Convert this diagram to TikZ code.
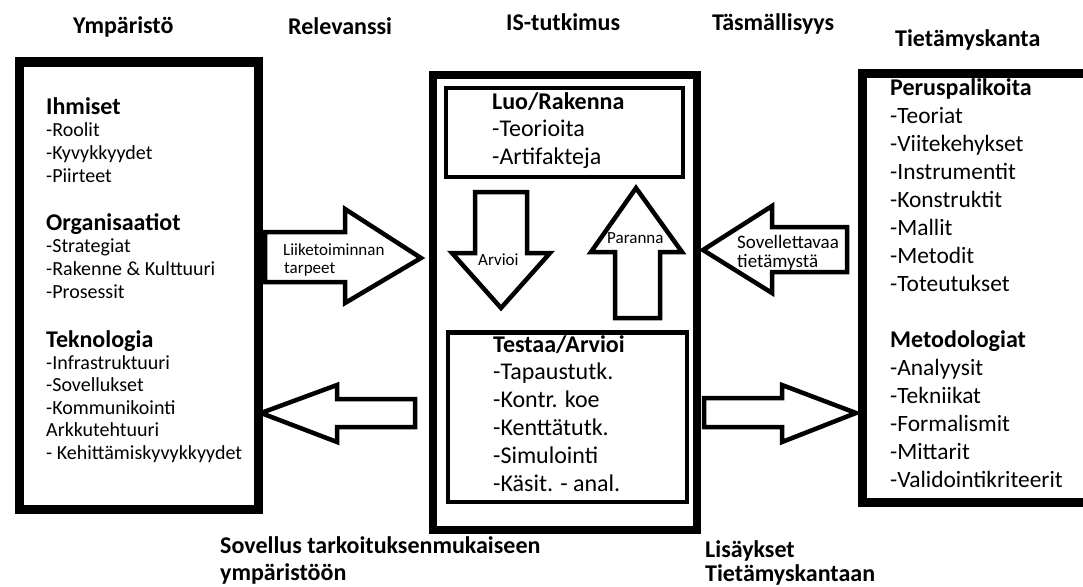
\documentclass[tikz,border=0pt]{standalone}
\usepackage{fontspec}
\setmainfont{Carlito}
\begin{document}
\begin{tikzpicture}[x=1pt,y=-1pt,
  heavybox/.style={draw=black, line width=9pt, fill=none, inner sep=0pt, anchor=north west},
  midbox/.style={draw=black, line width=8pt, inner sep=0pt, anchor=north west},
  subbox/.style={draw=black, line width=4.5pt, inner sep=0pt, anchor=north west},
  blockarrow/.style={draw=black, line width=4.5pt, line join=miter, fill=white},
  txt/.style={inner sep=0pt, anchor=base west, text=black},
  hd/.style={txt, font=\fontsize{24}{28}\selectfont\bfseries},
  itemL/.style={txt, font=\fontsize{20}{23}\selectfont},
  itemC/.style={txt, font=\fontsize{24}{28}\selectfont},
  itemR/.style={txt, font=\fontsize{23.4}{28}\selectfont},
  arrlabel/.style={txt, font=\fontsize{17}{18}\selectfont},
]
\useasboundingbox (0,0) rectangle (1083,586);

% column headings
\node[hd] (t-ymp) at (73,34) {Ympäristö};
\node[hd] (t-rel) at (288,35) {Relevanssi};
\node[hd] (t-is)  at (506,31) {IS-tutkimus};
\node[hd] (t-tas) at (712,31) {Täsmällisyys};
\node[hd] (t-tie) at (895,47) {Tietämyskanta};

% environment box
\node[heavybox, minimum width=239pt, minimum height=447.5pt] (env) at (14.5,57.5) {};
\node[hd] (ihm) at (46,114) {Ihmiset};
\foreach \txt [count=\i] in {-Roolit,-Kyvykkyydet,-Piirteet}
  \node[itemL] (ihm-\i) at (46,{114+22.7*\i}) {\txt};
\node[hd] (org) at (46,230) {Organisaatiot};
\foreach \txt [count=\i] in {-Strategiat,-Rakenne \& Kulttuuri,-Prosessit}
  \node[itemL] (org-\i) at (46,{230+22.7*\i}) {\txt};
\node[hd] (tek) at (46,347) {Teknologia};
\foreach \txt [count=\i] in {-Infrastruktuuri,-Sovellukset,-Kommunikointi,Arkkutehtuuri,- Kehittämiskyvykkyydet}
  \node[itemL] (tek-\i) at (46,{347+22.4*\i}) {\txt};

% IS research box
\node[midbox, minimum width=264pt, minimum height=455pt] (is) at (429,71) {};
\node[subbox, minimum width=237pt, minimum height=89pt] (build) at (443.5,85.5) {};
\node[hd] (luo) at (492,109) {Luo/Rakenna};
\foreach \txt [count=\i] in {-Teorioita,-Artifakteja}
  \node[itemC] (luo-\i) at (492,{109+27.5*\i}) {\txt};
\node[subbox, minimum width=239pt, minimum height=169.5pt] (eval) at (445.5,330) {};
\node[hd] (tes) at (493,352) {Testaa/Arvioi};
\foreach \txt [count=\i] in {-Tapaustutk.,-Kontr. koe,-Kenttätutk.,-Simulointi,-Käsit. - anal.}
  \node[itemC] (tes-\i) at (493,{352+27.8*\i}) {\txt};

% assess / refine loop
\draw[blockarrow] (475,192) -- (527,192) -- (527,253) -- (550,253) -- (501,308)
  -- (452,253) -- (475,253) -- cycle;
\node[arrlabel] (arvioi) at (478,265) {Arvioi};
\draw[blockarrow] (615,318) -- (660,318) -- (660,252) -- (682,252) -- (636,188)
  -- (591,252) -- (615,252) -- cycle;
\node[arrlabel] (paranna) at (607,243) {Paranna};

% knowledge base box
\node[heavybox, minimum width=226.5pt, minimum height=429pt] (kb) at (857.5,69) {};
\node[hd] (per) at (890,95) {Peruspalikoita};
\foreach \txt [count=\i] in {-Teoriat,-Viitekehykset,-Instrumentit,-Konstruktit,-Mallit,-Metodit,-Toteutukset}
  \node[itemR] (per-\i) at (890,{95+28*\i}) {\txt};
\node[hd] (met) at (890,347) {Metodologiat};
\foreach \txt [count=\i] in {-Analyysit,-Tekniikat,-Formalismit,-Mittarit,-Validointikriteerit}
  \node[itemR] (met-\i) at (890,{347+28*\i}) {\txt};

% business needs: environment -> research
\draw[blockarrow] (265,232) -- (345,232) -- (345,209) -- (421,258) -- (345,303)
  -- (345,282) -- (265,282) -- cycle;
\node[arrlabel] (lt1) at (283,255) {Liiketoiminnan};
\node[arrlabel] (lt2) at (284,273) {tarpeet};

% applicable knowledge: knowledge base -> research
\draw[blockarrow] (847,227) -- (772,227) -- (772,206) -- (703,250) -- (772,293)
  -- (772,272) -- (847,272) -- cycle;
\node[arrlabel, font=\fontsize{19}{19}\selectfont] (st1) at (737,248) {Sovellettavaa};
\node[arrlabel, font=\fontsize{19}{19}\selectfont] (st2) at (737,267) {tietämystä};

% application back to the environment
\draw[blockarrow] (415,399) -- (337,399) -- (337,385) -- (261,413) -- (337,442)
  -- (337,427) -- (415,427) -- cycle;
\node[hd] (app1) at (220,553) {Sovellus tarkoituksenmukaiseen};
\node[hd] (app2) at (220,580) {ympäristöön};

% additions to the knowledge base
\draw[blockarrow] (704,398) -- (782,398) -- (782,385) -- (856,413) -- (782,442)
  -- (782,427) -- (704,427) -- cycle;
\node[hd] (add1) at (705,557) {Lisäykset};
\node[hd] (add2) at (705,581) {Tietämyskantaan};
\end{tikzpicture}
\end{document}
